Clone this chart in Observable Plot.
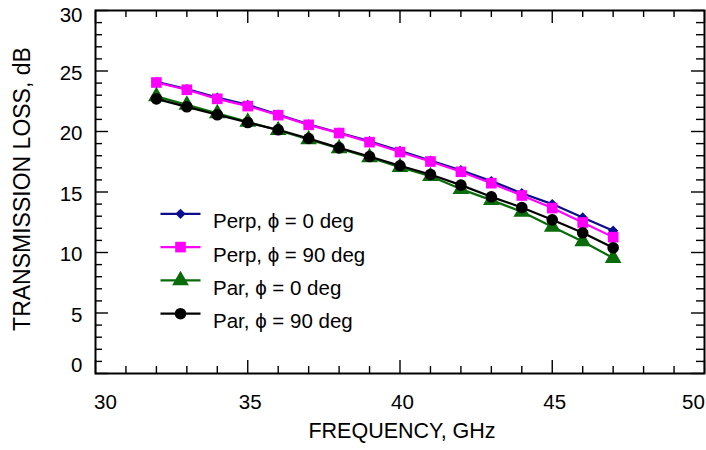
<!DOCTYPE html>
<html>
<head>
<meta charset="utf-8">
<script src="https://cdn.jsdelivr.net/npm/d3@7"></script>
<script src="https://cdn.jsdelivr.net/npm/@observablehq/plot@0.6"></script>
<style>
  html, body { margin: 0; padding: 0; background: white; }
</style>
</head>
<body>
<div id="chart"></div>
<script>
// ---- data ----
const freq = [32, 33, 34, 35, 36, 37, 38, 39, 40, 41, 42, 43, 44, 45, 46, 47];
const perp0  = [24.1, 23.5, 22.8, 22.2, 21.4, 20.6, 19.9, 19.2, 18.4, 17.6, 16.8, 15.9, 14.9, 14.0, 12.9, 11.8];
const perp90 = [24.05, 23.45, 22.7, 22.1, 21.35, 20.55, 19.87, 19.12, 18.3, 17.52, 16.67, 15.73, 14.71, 13.67, 12.48, 11.27];
const par0   = [22.9, 22.2, 21.5, 20.8, 20.1, 19.35, 18.6, 17.85, 17.05, 16.3, 15.24, 14.33, 13.36, 12.12, 10.91, 9.54];
const par90  = [22.7, 22.04, 21.38, 20.74, 20.14, 19.42, 18.65, 17.93, 17.17, 16.45, 15.57, 14.6, 13.72, 12.7, 11.63, 10.39];
const seriesNames = ["Perp, \u03d5 = 0 deg", "Perp, \u03d5 = 90 deg", "Par, \u03d5 = 0 deg", "Par, \u03d5 = 90 deg"];
const seriesValues = [perp0, perp90, par0, par90];
const xMajorTicks = [30, 35, 40, 45, 50];
const yMajorTicks = [0, 5, 10, 15, 20, 25, 30];
const xTitle = "FREQUENCY, GHz";
const yTitle = "TRANSMISSION LOSS, dB";

// ---- styles ----
const colors = ["#0c0c8c", "#ff00ff", "#0a6b0a", "#000000"];
const symbols = ["diamond2", "square", "triangle", "circle"];
const radii = [4.6, 6.0, 6.2, 5.8];

const W = 706, H = 450;
const mL = 95, mR = 2, mT = 10, mB = 77;
const fw = W - mL - mR, fh = H - mT - mB;
const font = "'Liberation Sans', Arial, Helvetica, sans-serif";
const tickFont = 20.5, titleFont = 21.5, yTitleFont = 23, legendFont = 20.5;

const xMinorTicks = d3.range(30, 51, 1).filter(v => !xMajorTicks.includes(v));
const yMinorTicks = d3.range(0, 31, 1).filter(v => !yMajorTicks.includes(v));

const rows = seriesNames.map((name, i) => freq.map((f, j) => ({f, v: seriesValues[i][j], s: name})));

const lineSym = { draw(ctx) { ctx.moveTo(-20, 0); ctx.lineTo(20, 0); } };

const marks = [];
const tk = {strokeWidth: 1.4, stroke: "black"};
// inward ticks on all four sides
marks.push(Plot.ruleX(xMajorTicks, {x: d => d, insetTop: fh - 13, ...tk}));
marks.push(Plot.ruleX(xMinorTicks, {x: d => d, insetTop: fh - 7, ...tk}));
marks.push(Plot.ruleX(xMajorTicks, {x: d => d, insetBottom: fh - 13, ...tk}));
marks.push(Plot.ruleX(xMinorTicks, {x: d => d, insetBottom: fh - 7, ...tk}));
marks.push(Plot.ruleY(yMajorTicks, {y: d => d, insetRight: fw - 13, ...tk}));
marks.push(Plot.ruleY(yMinorTicks, {y: d => d, insetRight: fw - 7, ...tk}));
marks.push(Plot.ruleY(yMajorTicks, {y: d => d, insetLeft: fw - 13, ...tk}));
marks.push(Plot.ruleY(yMinorTicks, {y: d => d, insetLeft: fw - 8, ...tk}));

// series
rows.forEach((data, i) => {
  marks.push(Plot.line(data, {x: "f", y: "v", stroke: colors[i], strokeWidth: 2.2}));
  marks.push(Plot.dot(data, {x: "f", y: "v", symbol: symbols[i], r: radii[i], fill: colors[i], stroke: "none"}));
});

marks.push(Plot.frame({stroke: "black", strokeWidth: 2}));

// tick labels
const ax = {tickSize: 0, label: null, fontSize: tickFont};
marks.push(Plot.axisX([35, 40, 45], {...ax, tickPadding: 21, dx: 2.5}));
marks.push(Plot.axisX([30], {...ax, tickPadding: 21, dx: 10}));
marks.push(Plot.axisX([50], {...ax, tickPadding: 21, dx: -11}));
marks.push(Plot.axisY([5, 10, 15, 20, 25], {...ax, tickPadding: 13, dy: 2}));
marks.push(Plot.axisY([30], {...ax, tickPadding: 13, dy: 5}));
marks.push(Plot.axisY([0], {...ax, tickPadding: 13, dy: -8}));

// axis titles
marks.push(Plot.text([xTitle], {text: d => d, frameAnchor: "bottom", textAnchor: "middle", dx: 2, dy: 64, fontSize: titleFont, fill: "black"}));
marks.push(Plot.text([yTitle], {text: d => d, frameAnchor: "left", textAnchor: "middle", rotate: -90, dx: -72.5, dy: -3, fontSize: yTitleFont, fill: "black"}));

// legend
seriesNames.forEach((name, i) => {
  const dy = 203.3 + 33.3 * i;
  marks.push(Plot.dot([name], {frameAnchor: "top-left", dx: 85, dy, symbol: lineSym, stroke: colors[i], strokeWidth: 2.2, fill: "none"}));
  marks.push(Plot.dot([name], {frameAnchor: "top-left", dx: 85, dy, symbol: symbols[i], r: radii[i], fill: colors[i], stroke: "none"}));
  marks.push(Plot.text([name], {text: d => d, frameAnchor: "top-left", dx: 117.5, dy, textAnchor: "start", fontSize: legendFont, fill: "black"}));
});

const chart = Plot.plot({
  width: W, height: H,
  marginLeft: mL, marginRight: mR, marginTop: mT, marginBottom: mB,
  x: {domain: [30, 50]},
  y: {domain: [0, 30]},
  style: {fontFamily: font, fontSize: "20px", background: "white", color: "black"},
  marks
});
document.getElementById("chart").appendChild(chart);
</script>
</body>
</html>
